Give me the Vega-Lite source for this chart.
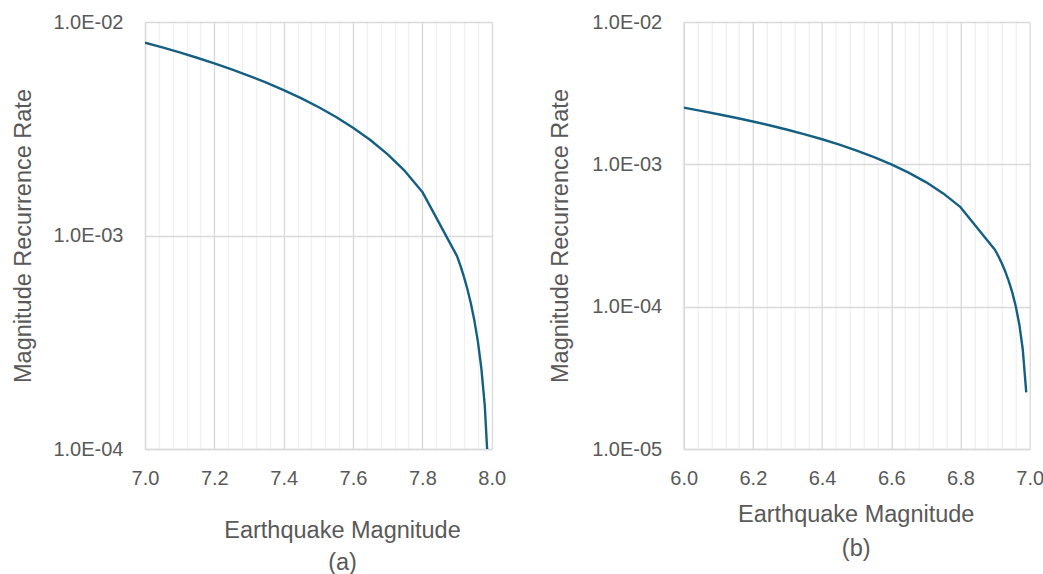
{
  "$schema": "https://vega.github.io/schema/vega-lite/v6.json",
  "autosize": {"type": "pad"},
  "padding": {"left": 10, "top": 12, "right": 0, "bottom": 0},
  "background": "white",
  "datasets": {
    "a": [
      {"m": 7.0, "rate": 0.008}, {"m": 7.05, "rate": 0.0076}, {"m": 7.1, "rate": 0.0072},
      {"m": 7.15, "rate": 0.0068}, {"m": 7.2, "rate": 0.0064}, {"m": 7.25, "rate": 0.006},
      {"m": 7.3, "rate": 0.0056}, {"m": 7.35, "rate": 0.0052}, {"m": 7.4, "rate": 0.0048},
      {"m": 7.45, "rate": 0.0044}, {"m": 7.5, "rate": 0.004}, {"m": 7.55, "rate": 0.0036},
      {"m": 7.6, "rate": 0.0032}, {"m": 7.65, "rate": 0.0028}, {"m": 7.7, "rate": 0.0024},
      {"m": 7.75, "rate": 0.002}, {"m": 7.8, "rate": 0.0016},
      {"m": 7.9, "rate": 0.0008}, {"m": 7.91, "rate": 0.00072}, {"m": 7.92, "rate": 0.00064},
      {"m": 7.93, "rate": 0.00056}, {"m": 7.94, "rate": 0.00048}, {"m": 7.95, "rate": 0.0004},
      {"m": 7.96, "rate": 0.00032}, {"m": 7.97, "rate": 0.00024}, {"m": 7.98, "rate": 0.00016},
      {"m": 7.99, "rate": 0.00008}
    ],
    "b": [
      {"m": 6.0, "rate": 0.0025}, {"m": 6.05, "rate": 0.002375}, {"m": 6.1, "rate": 0.00225},
      {"m": 6.15, "rate": 0.002125}, {"m": 6.2, "rate": 0.002}, {"m": 6.25, "rate": 0.001875},
      {"m": 6.3, "rate": 0.00175}, {"m": 6.35, "rate": 0.001625}, {"m": 6.4, "rate": 0.0015},
      {"m": 6.45, "rate": 0.001375}, {"m": 6.5, "rate": 0.00125}, {"m": 6.55, "rate": 0.001125},
      {"m": 6.6, "rate": 0.001}, {"m": 6.65, "rate": 0.000875}, {"m": 6.7, "rate": 0.00075},
      {"m": 6.75, "rate": 0.000625}, {"m": 6.8, "rate": 0.0005},
      {"m": 6.9, "rate": 0.00025}, {"m": 6.91, "rate": 0.000225}, {"m": 6.92, "rate": 0.0002},
      {"m": 6.93, "rate": 0.000175}, {"m": 6.94, "rate": 0.00015}, {"m": 6.95, "rate": 0.000125},
      {"m": 6.96, "rate": 0.0001}, {"m": 6.97, "rate": 0.000075}, {"m": 6.98, "rate": 0.00005},
      {"m": 6.99, "rate": 0.000025}
    ]
  },
  "hconcat": [
    {
      "width": 346.7,
      "height": 427,
      "data": {"name": "a"},
      "mark": {"type": "line", "color": "#156082", "strokeWidth": 2.4, "clip": true, "interpolate": "linear", "strokeJoin": "round"},
      "encoding": {
        "x": {
          "field": "m", "type": "quantitative",
          "scale": {"domain": [7, 8], "nice": false, "zero": false},
          "axis": {
            "values": [7, 7.04, 7.08, 7.12, 7.16, 7.2, 7.24, 7.28, 7.32, 7.36, 7.4, 7.44, 7.48, 7.52, 7.56, 7.6, 7.64, 7.68, 7.72, 7.76, 7.8, 7.84, 7.88, 7.92, 7.96, 8],
            "labelExpr": "abs(datum.value*5 - round(datum.value*5)) < 0.001 ? format(datum.value, '.1f') : ''",
            "gridColor": {"condition": {"test": "abs(datum.value*5 - round(datum.value*5)) < 0.001", "value": "#d9d9d9"}, "value": "#f0f0f0"},
            "title": ["Earthquake Magnitude", "(a)"],
            "labelPadding": 35,
            "labelBaseline": "alphabetic",
            "titleX": 197,
            "titleY": 88,
            "titleBaseline": "alphabetic",
            "titleLineHeight": 32
          }
        },
        "y": {
          "field": "rate", "type": "quantitative",
          "scale": {"type": "log", "domain": [0.0001, 0.01], "nice": false},
          "axis": {
            "values": [0.0001, 0.001, 0.01],
            "labelExpr": "'1.0E-0' + round(-log(datum.value)/LN10)",
            "title": "Magnitude Recurrence Rate",
            "labelPadding": 22,
            "labelBaseline": "middle",
            "titleX": -122,
            "titleY": 213.5,
            "titleBaseline": "middle",
            "titleAngle": -90
          }
        }
      }
    },
    {
      "width": 346,
      "height": 427,
      "data": {"name": "b"},
      "mark": {"type": "line", "color": "#156082", "strokeWidth": 2.4, "clip": true, "interpolate": "linear", "strokeJoin": "round"},
      "encoding": {
        "x": {
          "field": "m", "type": "quantitative",
          "scale": {"domain": [6, 7], "nice": false, "zero": false},
          "axis": {
            "values": [6, 6.04, 6.08, 6.12, 6.16, 6.2, 6.24, 6.28, 6.32, 6.36, 6.4, 6.44, 6.48, 6.52, 6.56, 6.6, 6.64, 6.68, 6.72, 6.76, 6.8, 6.84, 6.88, 6.92, 6.96, 7],
            "labelExpr": "abs(datum.value*5 - round(datum.value*5)) < 0.001 ? format(datum.value, '.1f') : ''",
            "gridColor": {"condition": {"test": "abs(datum.value*5 - round(datum.value*5)) < 0.001", "value": "#d9d9d9"}, "value": "#f0f0f0"},
            "title": ["Earthquake Magnitude", "(b)"],
            "labelPadding": 35.7,
            "labelBaseline": "alphabetic",
            "titleX": 172,
            "titleY": 72,
            "titleBaseline": "alphabetic",
            "titleLineHeight": 34
          }
        },
        "y": {
          "field": "rate", "type": "quantitative",
          "scale": {"type": "log", "domain": [0.00001, 0.01], "nice": false},
          "axis": {
            "values": [0.00001, 0.0001, 0.001, 0.01],
            "labelExpr": "'1.0E-0' + round(-log(datum.value)/LN10)",
            "title": "Magnitude Recurrence Rate",
            "labelPadding": 22,
            "labelBaseline": "middle",
            "titleX": -123,
            "titleY": 213.5,
            "titleBaseline": "middle",
            "titleAngle": -90
          }
        }
      }
    }
  ],
  "spacing": 191.7,
  "bounds": "flush",
  "config": {
    "view": {"stroke": null},
    "axis": {
      "labelFont": "Liberation Sans",
      "titleFont": "Liberation Sans",
      "labelFontSize": 20,
      "titleFontSize": 23.5,
      "labelColor": "#595959",
      "titleColor": "#595959",
      "titleFontWeight": "normal",
      "ticks": false,
      "tickSize": 0,
      "domainColor": "#d9d9d9",
      "domainWidth": 1.3,
      "gridColor": "#d9d9d9",
      "gridWidth": 1.3,
      "labelOverlap": false,
      "labelFlush": false
    }
  }
}
